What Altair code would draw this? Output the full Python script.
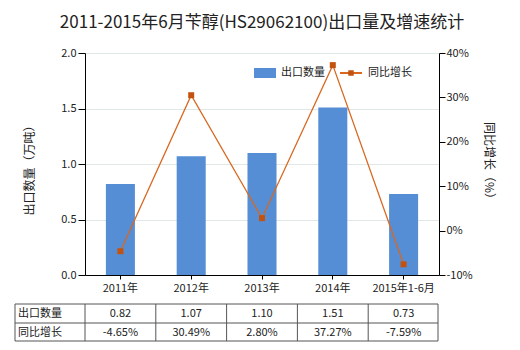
import altair as alt
import pandas as pd

categories = ["2011年", "2012年", "2013年", "2014年", "2015年1-6月"]
export_qty = [0.82, 1.07, 1.10, 1.51, 0.73]
growth = [-4.65, 30.49, 2.80, 37.27, -7.59]
qty_labels = ["0.82", "1.07", "1.10", "1.51", "0.73"]
growth_labels = ["-4.65%", "30.49%", "2.80%", "37.27%", "-7.59%"]
row_names = ["出口数量", "同比增长"]

df = pd.DataFrame({"cat": categories, "qty": export_qty, "growth": growth,
                   "ql": qty_labels, "gl": growth_labels})

FONT = "Noto Sans CJK SC"
BLUE = "#558ed5"
ORANGE = "#d8681f"
DARK = "#c4520f"
TXT = "#222222"
GRID = "#dfe8e6"
TABLE = "#555555"

W, H = 354, 222

xscale = alt.Scale(domain=categories, paddingInner=0, paddingOuter=0)
xaxis = alt.Axis(title=None, labelAngle=0, labelFont=FONT, labelFontSize=11,
                 labelColor=TXT, domainColor="#000000", tickColor="#000000",
                 tickSize=4, labelPadding=3)
X = alt.X("cat:N", sort=categories, scale=xscale, axis=xaxis)

base = alt.Chart(df)

bars = base.mark_bar(color=BLUE, width=alt.RelativeBandSize(0.41)).encode(
    x=X,
    y=alt.Y("qty:Q", scale=alt.Scale(domain=[0, 2]),
            axis=alt.Axis(values=[0, 0.5, 1.0, 1.5, 2.0], format=".1f", grid=True,
                          gridColor=GRID, domainColor="#000000", tickColor="#000000",
                          tickSize=7, labelPadding=2, labelFont=FONT, labelFontSize=11,
                          labelColor=TXT, title="出口数量（万吨）", titleFont=FONT,
                          titleFontSize=12, titleFontWeight="normal", titleColor=TXT,
                          titleX=-56, titleY=114, titleAngle=-90,
                          titleBaseline="middle", titleAlign="center")),
)

yr = alt.Y("growth:Q", scale=alt.Scale(domain=[-10, 40]),
           axis=alt.Axis(orient="right", values=[-10, 0, 10, 20, 30, 40],
                         labelExpr="datum.value + '%'", grid=False,
                         domainColor="#000000", tickColor="#000000", tickSize=6,
                         labelPadding=1, labelFont=FONT, labelFontSize=11,
                         labelColor=TXT, title="同比增长（%）", titleFont=FONT,
                         titleFontSize=12, titleFontWeight="normal", titleColor=TXT,
                         titleX=49, titleY=110, titleAngle=90,
                         titleBaseline="middle", titleAlign="center"))

line = base.mark_line(color=ORANGE, strokeWidth=1.3).encode(x=X, y=yr)
pts = base.mark_point(shape="square", filled=True, color=DARK, size=36, opacity=1).encode(
    x=X, y=alt.Y("growth:Q", scale=alt.Scale(domain=[-10, 40]), axis=None))

one = pd.DataFrame({"k": [0]})

def txt(s, x, y, align="left", size=11):
    return alt.Chart(one).mark_text(text=s, align=align, baseline="middle", font=FONT,
                                    fontSize=size, color=TXT).encode(
        x=alt.value(x), y=alt.value(y))

# legend
leg_rect = alt.Chart(one).mark_rect(color=BLUE).encode(
    x=alt.value(169), x2=alt.value(191), y=alt.value(15), y2=alt.value(25))
leg_line = alt.Chart(one).mark_rule(color=ORANGE, strokeWidth=2).encode(
    x=alt.value(255), x2=alt.value(277), y=alt.value(20))
leg_pt = alt.Chart(one).mark_point(shape="square", filled=True, color=DARK, size=30,
                                   opacity=1).encode(x=alt.value(266), y=alt.value(20))
leg_t1 = txt("出口数量", 196, 20)
leg_t2 = txt("同比增长", 283, 20)

# table
T_TOP, T_MID, T_BOT = 251, 270, 288
T_L, T_R = -70, W - 1
hl = [alt.Chart(one).mark_rule(color=TABLE, strokeWidth=1).encode(
    x=alt.value(T_L), x2=alt.value(T_R), y=alt.value(v)) for v in (T_TOP, T_MID, T_BOT)]
vl_edges = [alt.Chart(one).mark_rule(color=TABLE, strokeWidth=1).encode(
    x=alt.value(v), y=alt.value(T_TOP), y2=alt.value(T_BOT)) for v in (T_L, T_R)]
vl_cats = base.mark_rule(color=TABLE, strokeWidth=1).encode(
    x=alt.X("cat:N", sort=categories, scale=xscale, bandPosition=0),
    y=alt.value(T_TOP), y2=alt.value(T_BOT))
row1 = base.mark_text(font=FONT, fontSize=11, color=TXT, baseline="middle").encode(
    x=alt.X("cat:N", sort=categories, scale=xscale), y=alt.value((T_TOP + T_MID) / 2 + 0.5),
    text="ql:N")
row2 = base.mark_text(font=FONT, fontSize=11, color=TXT, baseline="middle").encode(
    x=alt.X("cat:N", sort=categories, scale=xscale), y=alt.value((T_MID + T_BOT) / 2 + 0.5),
    text="gl:N")
rn1 = txt(row_names[0], T_L + 3, (T_TOP + T_MID) / 2 + 0.5)
rn2 = txt(row_names[1], T_L + 3, (T_MID + T_BOT) / 2 + 0.5)

chart = alt.layer(
    bars, line, pts,
    leg_rect, leg_line, leg_pt, leg_t1, leg_t2,
    *hl, *vl_edges, vl_cats, row1, row2, rn1, rn2,
).resolve_scale(y="independent").properties(
    width=W, height=H,
    title=alt.TitleParams("2011-2015年6月苄醇(HS29062100)出口量及增速统计", font=FONT,
                          fontSize=17, fontWeight="normal", color=TXT, offset=15,
                          anchor="middle"),
    autosize=alt.AutoSizeParams(type="none"),
    padding={"left": 85, "top": 53, "right": 81, "bottom": 75},
).configure_view(stroke=None).configure(background="#ffffff")

chart.save("out.html", embed_options={"renderer": "svg", "actions": False})
